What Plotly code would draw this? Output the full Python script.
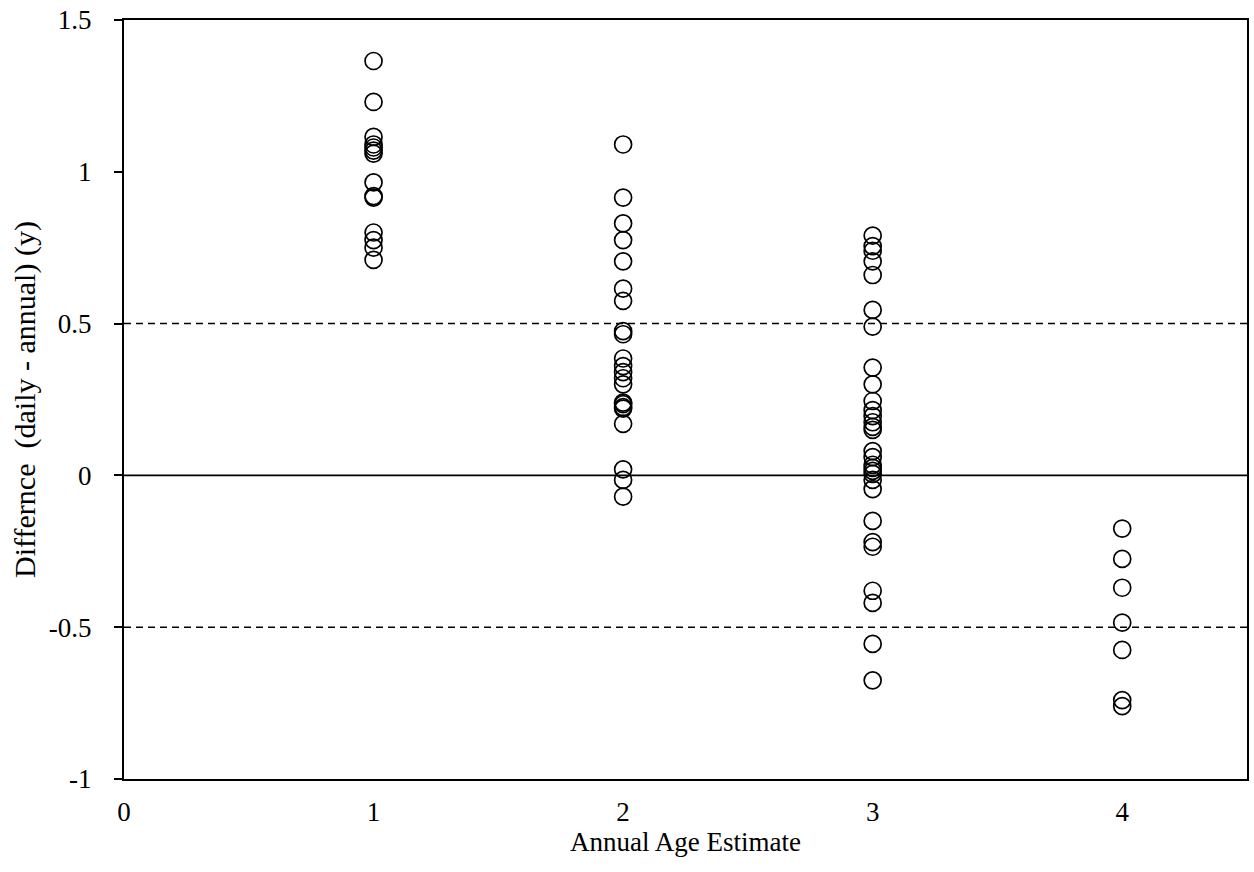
import plotly.graph_objects as go

age1 = [1.365, 1.23, 1.115, 1.09, 1.08, 1.07, 1.06, 0.965, 0.92, 0.915, 0.80, 0.775, 0.75, 0.71]
age2 = [1.09, 0.915, 0.83, 0.775, 0.705, 0.615, 0.575, 0.475, 0.465, 0.385, 0.36, 0.34, 0.32,
        0.30, 0.24, 0.235, 0.225, 0.22, 0.17, 0.02, -0.015, -0.07]
age3 = [0.79, 0.755, 0.74, 0.705, 0.66, 0.545, 0.49, 0.355, 0.30, 0.245, 0.215, 0.195, 0.175,
        0.16, 0.15, 0.08, 0.06, 0.035, 0.025, 0.015, 0.005, -0.015, -0.045, -0.15, -0.22,
        -0.235, -0.38, -0.42, -0.555, -0.675]
age4 = [-0.175, -0.275, -0.37, -0.485, -0.575, -0.74, -0.76]

xs, ys = [], []
for a, vals in zip([1, 2, 3, 4], [age1, age2, age3, age4]):
    xs += [a] * len(vals)
    ys += vals

ref_solid = 0
ref_dashed = [0.5, -0.5]
x_range = [0, 4.5]
y_range = [-1, 1.5]

font_family = "Liberation Serif, Times New Roman, serif"

fig = go.Figure()
fig.add_trace(go.Scatter(x=x_range, y=[ref_solid, ref_solid], mode="lines",
                         line=dict(color="black", width=1.8), showlegend=False, hoverinfo="skip"))
for v in ref_dashed:
    fig.add_trace(go.Scatter(x=x_range, y=[v, v], mode="lines",
                             line=dict(color="black", width=1.5, dash="7px,5px"),
                             showlegend=False, hoverinfo="skip"))
fig.add_trace(go.Scatter(x=xs, y=ys, mode="markers", showlegend=False,
                         marker=dict(symbol="circle-open", size=17, color="black",
                                     line=dict(color="black", width=1.7))))

fig.update_layout(
    width=1254, height=872,
    margin=dict(l=124, r=5, t=19, b=93),
    paper_bgcolor="white", plot_bgcolor="white",
    font=dict(family=font_family, size=27, color="black"),
    xaxis=dict(range=x_range, tickvals=[0, 1, 2, 3, 4], ticks="", showgrid=False,
               zeroline=False, showline=True, linecolor="black", linewidth=2, mirror=True,
               ticklabelstandoff=8,
               title=dict(text="Annual Age Estimate", font=dict(size=27), standoff=2)),
    yaxis=dict(range=y_range, tickvals=[-1, -0.5, 0, 0.5, 1, 1.5],
               ticktext=["-1", "-0.5", "0", "0.5", "1", "1.5"],
               ticks="outside", ticklen=8, tickwidth=2, tickcolor="black", showgrid=False,
               zeroline=False, showline=True, linecolor="black", linewidth=2, mirror=True,
               ticklabelstandoff=17,
               title=dict(text="Differnce\u00a0 (daily - annual) (y)", font=dict(size=30), standoff=4)),
)

fig.write_html("out.html")
